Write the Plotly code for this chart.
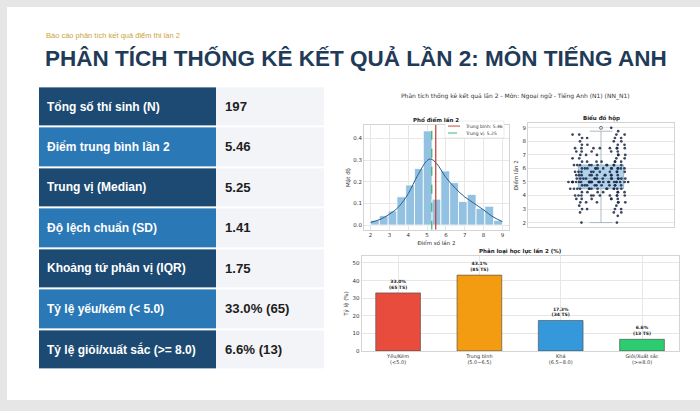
import numpy as np
import plotly.graph_objects as go

# ---- summary table ----
stat_labels = ["Tổng số thí sinh (N)", "Điểm trung bình lần 2", "Trung vị (Median)",
               "Độ lệch chuẩn (SD)", "Khoảng tứ phân vị (IQR)", "Tỷ lệ yếu/kém (< 5.0)",
               "Tỷ lệ giỏi/xuất sắc (>= 8.0)"]
stat_values = ["197", "5.46", "5.25", "1.41", "1.75", "33.0% (65)", "6.6% (13)"]

score_levels = [2.0, 2.5, 2.75, 3.0, 3.25, 3.5, 3.75, 4.0, 4.25, 4.5, 4.75, 5.0, 5.25, 5.5,
                5.75, 6.0, 6.25, 6.5, 6.75, 7.0, 7.25, 7.5, 7.75, 8.0, 8.25, 8.5, 8.75, 9.0]
score_counts = [2, 1, 3, 4, 2, 6, 6, 10, 7, 14, 10, 26, 14, 11,
                10, 13, 11, 7, 4, 6, 5, 8, 4, 3, 4, 4, 1, 1]
mean_score = 5.46
median_score = 5.25
n_bins = 15

# kde curve
kde_x = [2.0, 2.5, 3.0, 3.5, 4.0, 4.5, 5.0, 5.2, 5.5, 6.0, 6.5, 7.0, 7.5, 8.0, 8.5, 9.0]
kde_y = [0.012, 0.026, 0.05, 0.085, 0.145, 0.23, 0.298, 0.305, 0.285, 0.22, 0.17, 0.13,
         0.10, 0.07, 0.038, 0.016]

# ---- classification bars ----
class_labels = ["Yếu/Kém<br>(<5.0)", "Trung bình<br>(5.0~6.5)", "Khá<br>(6.5~8.0)",
                "Giỏi/Xuất sắc<br>(>=8.0)"]
class_pct = [33.0, 43.1, 17.3, 6.6]
class_n = [65, 85, 34, 13]
class_colors = ["#e74c3c", "#f39c12", "#3498db", "#2ecc71"]

scores = np.repeat(score_levels, score_counts)
dens, edges = np.histogram(scores, bins=n_bins, range=(2, 9), density=True)
centers = (edges[:-1] + edges[1:]) / 2

W, H = 700, 411
def px(x):
    return x / W
def py(y):
    return 1 - y / H

SANS = "Liberation Sans, Arial, sans-serif"
MPL = "DejaVu Sans, sans-serif"
GRID = "#e6e6e6"
SPINE = "#d4d4d4"
TICKC = "#333333"
MEAN_C = "#c0392b"
MED_C = "#27ae60"

# strip styling: each score row gets a slightly different spread so rows don't line up
strip_w = [0.42, 0.36, 0.40, 0.33, 0.44, 0.38, 0.35]
strip_pos = [0.0, 0.12, -0.08, 0.06, -0.04, 0.1, -0.12]

fig = go.Figure()

# table as a heatmap
z = [[i % 2, 2] for i in range(len(stat_labels))]
fig.add_trace(go.Heatmap(
    z=z, x=[0, 177, 285], y=list(range(len(stat_labels) + 1)),
    colorscale=[[0, "#1c4a73"], [0.5, "#2a78b5"], [1, "#f3f4f7"]], zmin=0, zmax=2,
    showscale=False, ygap=2, hoverinfo="skip", xaxis="x4", yaxis="y4"))
for i, (lab, val) in enumerate(zip(stat_labels, stat_values)):
    fig.add_annotation(x=6, y=i + 0.5, xref="x4", yref="y4", text=f"<b>{lab}</b>",
                       showarrow=False, xanchor="left", font=dict(family=SANS, size=12, color="white"))
    fig.add_annotation(x=184, y=i + 0.5, xref="x4", yref="y4", text=f"<b>{val}</b>",
                       showarrow=False, xanchor="left", font=dict(family=SANS, size=13.2, color="#1e1e1e"))

# histogram
fig.add_trace(go.Bar(x=centers, y=dens, width=edges[1] - edges[0], marker_color="#93c1e1",
                     marker_line=dict(color="white", width=0.8), showlegend=False,
                     xaxis="x", yaxis="y"))
fig.add_trace(go.Scatter(x=kde_x, y=kde_y, mode="lines", line=dict(color="#2b5d8a", width=1, shape="spline"),
                         showlegend=False, xaxis="x", yaxis="y"))
hist_yr = [-0.022, 0.462]
fig.add_trace(go.Scatter(x=[median_score] * 2, y=hist_yr, mode="lines",
                         line=dict(color=MED_C, width=1.1, dash="dash"), showlegend=False,
                         xaxis="x", yaxis="y"))
fig.add_trace(go.Scatter(x=[mean_score] * 2, y=hist_yr, mode="lines", line=dict(color=MEAN_C, width=1.2),
                         showlegend=False, xaxis="x", yaxis="y"))

# box
fig.add_trace(go.Box(y=scores, x0=0, width=0.31, boxpoints="outliers", fillcolor="rgba(150,195,228,0.75)",
                     line=dict(color="#9aa9b5", width=0.8),
                     marker=dict(symbol="circle-open", size=3, color="#777"),
                     showlegend=False, xaxis="x2", yaxis="y2"))
# strip points, one group per score level so the jitter spreads evenly
for k, (lv, cnt) in enumerate(zip(score_levels, score_counts)):
    fig.add_trace(go.Box(y=[lv] * cnt, x0=0, width=strip_w[k % len(strip_w)], boxpoints="all",
                         jitter=1, pointpos=strip_pos[k % len(strip_pos)],
                         fillcolor="rgba(0,0,0,0)", line=dict(width=0, color="rgba(0,0,0,0)"),
                         marker=dict(size=2.7, color="#1a2744", opacity=0.85),
                         showlegend=False, hoverinfo="y", xaxis="x2", yaxis="y2"))

# classification bars
fig.add_trace(go.Bar(x=list(range(len(class_pct))), y=class_pct, width=0.55, marker_color=class_colors,
                     marker_line=dict(color="#444", width=0.6),
                     text=[f"<b>{p:.1f}%<br>({n} TS)</b>" for p, n in zip(class_pct, class_n)],
                     textposition="outside", textfont=dict(family=MPL, size=4.5, color="#222"),
                     cliponaxis=False, showlegend=False, xaxis="x3", yaxis="y3"))

def mpl_axis(**kw):
    d = dict(showgrid=True, gridcolor=GRID, gridwidth=0.6, zeroline=False, showline=True,
             linecolor=SPINE, linewidth=0.8, mirror=True, ticks="",
             tickfont=dict(family=MPL, size=5.5, color=TICKC),
             title_font=dict(family=MPL, size=5.5, color=TICKC))
    d.update(kw)
    return d

fig.update_layout(
    width=W, height=H, margin=dict(l=0, r=0, t=0, b=0), showlegend=False,
    paper_bgcolor="#e6e6e6", plot_bgcolor="white", boxmode="overlay", barmode="overlay",
    xaxis=mpl_axis(domain=[px(364), px(509)], range=[1.65, 9.35], tickvals=list(range(2, 10)),
                   anchor="y", title=dict(text="Điểm số lần 2", standoff=3)),
    yaxis=mpl_axis(domain=[py(231.5), py(126)], range=hist_yr, tickvals=[0, 0.1, 0.2, 0.3, 0.4],
                   anchor="x", tickformat=".1f", title=dict(text="Mật độ", standoff=2)),
    xaxis2=mpl_axis(domain=[px(528), px(674)], range=[-0.5, 0.5], showticklabels=False,
                    showgrid=False, anchor="y2"),
    yaxis2=mpl_axis(domain=[py(229), py(124)], range=[1.65, 9.35], tickvals=list(range(2, 10)),
                    anchor="x2", title=dict(text="Điểm lần 2", standoff=3)),
    xaxis3=mpl_axis(domain=[px(361.5), px(678.6)], range=[-0.45, 3.45], tickvals=list(range(4)),
                    anchor="y3", ticktext=class_labels, tickfont=dict(family=MPL, size=5, color=TICKC)),
    yaxis3=mpl_axis(domain=[py(353.5), py(258)], range=[0, 53.9], tickvals=[0, 10, 20, 30, 40, 50],
                    anchor="x3", title=dict(text="Tỷ lệ (%)", standoff=3)),
    xaxis4=dict(domain=[px(39), px(324)], range=[0, 285], visible=False, anchor="y4"),
    yaxis4=dict(domain=[py(372), py(87)], range=[7, 0], visible=False, anchor="x4"),
)

# white card
fig.add_shape(type="rect", xref="paper", yref="paper", x0=px(7), x1=1, y0=py(403), y1=py(7),
              fillcolor="white", line_width=0, layer="below")

# legend of the histogram (drawn by hand to keep it as compact as the original)
fig.add_shape(type="rect", xref="paper", yref="paper", x0=px(445), x1=px(504), y0=py(139), y1=py(122),
              fillcolor="white", line=dict(color="#d8d8d8", width=0.5))
for k, (lab, col, dash) in enumerate([(f"Trung bình: {mean_score:.2f}", MEAN_C, "solid"),
                                      (f"Trung vị: {median_score:.2f}", MED_C, "dash")]):
    yy = 127 + k * 7
    fig.add_shape(type="line", xref="paper", yref="paper", x0=px(448), x1=px(460), y0=py(yy), y1=py(yy),
                  line=dict(color=col, width=0.9, dash=dash))
    fig.add_annotation(x=px(463), y=py(yy), xref="paper", yref="paper", xanchor="left", yanchor="middle",
                       text=lab, showarrow=False, font=dict(family=MPL, size=4.5, color=TICKC))

# headings
fig.add_annotation(x=px(44), y=py(36), xref="paper", yref="paper", xanchor="left", yanchor="middle",
                   text="Báo cáo phân tích kết quả điểm thi lần 2", showarrow=False,
                   font=dict(family=SANS, size=7.5, color="#c9a43c"))
fig.add_annotation(x=px(43), y=py(58), xref="paper", yref="paper", xanchor="left", yanchor="middle",
                   text="<b>PHÂN TÍCH THỐNG KÊ KẾT QUẢ LẦN 2: MÔN TIẾNG ANH</b>", showarrow=False,
                   font=dict(family=SANS, size=22.5, color="#1f3b58"))
fig.add_annotation(x=px(515), y=py(97), xref="paper", yref="paper", xanchor="center", yanchor="middle",
                   text="Phân tích thống kê kết quả lần 2 - Môn: Ngoại ngữ - Tiếng Anh (N1) (NN_N1)",
                   showarrow=False, font=dict(family=MPL, size=6, color="#333"))
for txt, cx, cy in [("Phổ điểm lần 2", 436, 120), ("Biểu đồ hộp", 601, 119),
                    ("Phân loại học lực lần 2 (%)", 520, 253)]:
    fig.add_annotation(x=px(cx), y=py(cy), xref="paper", yref="paper", xanchor="center", yanchor="middle",
                       text=f"<b>{txt}</b>", showarrow=False, font=dict(family=MPL, size=5.5, color="#222"))

# drop the page's default body margin so the figure sits at the window's corner
fig.write_html("out.html", config={"displayModeBar": False},
               post_script="document.body.style.margin='0';")
